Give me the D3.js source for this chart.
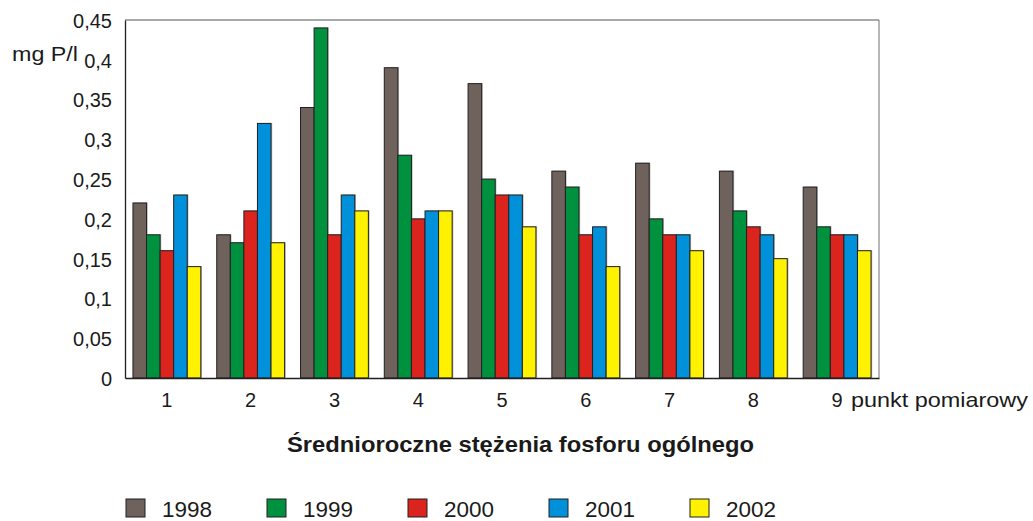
<!DOCTYPE html>
<html><head><meta charset="utf-8">
<script src="https://cdn.jsdelivr.net/npm/d3@7"></script>
<style>body{margin:0;background:#fff;} text{font-family:"Liberation Sans",Arial,sans-serif;fill:#1a1a1a;}</style>
</head><body>
<svg id="c" width="1033" height="521"></svg>
<script>
const categories = ["1","2","3","4","5","6","7","8","9"];
const years = ["1998","1999","2000","2001","2002"];
const v1998 = [0.22,0.18,0.34,0.39,0.37,0.26,0.27,0.26,0.24];
const v1999 = [0.18,0.17,0.44,0.28,0.25,0.24,0.20,0.21,0.19];
const v2000 = [0.16,0.21,0.18,0.20,0.23,0.18,0.18,0.19,0.18];
const v2001 = [0.23,0.32,0.23,0.21,0.23,0.19,0.18,0.18,0.18];
const v2002 = [0.14,0.17,0.21,0.21,0.19,0.14,0.16,0.15,0.16];
const yTicks = [0,0.05,0.1,0.15,0.2,0.25,0.3,0.35,0.4,0.45];
const colors = ["#6f625d","#00913f","#dc241f","#0091da","#fff200"];
const seriesValues = [v1998,v1999,v2000,v2001,v2002];

const svg = d3.select("#c");
const L=125, R=879, T=20, B=378;
const x = d3.scaleBand().domain(categories).range([L,R]).paddingInner(0.19).paddingOuter(0.095);
const xs = d3.scaleBand().domain(years).range([0,x.bandwidth()]);
const y = d3.scaleLinear().domain([0,0.45]).range([B,T]);
const fmt = d => String(d).replace(".",",");

// frame
svg.append("line").attr("x1",L).attr("x2",R).attr("y1",T).attr("y2",T).attr("stroke","#555").attr("stroke-width",1.2);
svg.append("line").attr("x1",R).attr("x2",R).attr("y1",T).attr("y2",B).attr("stroke","#888").attr("stroke-width",1.2);

// bars
const g = svg.append("g");
categories.forEach((c,i)=>{
  years.forEach((yr,j)=>{
    const val = seriesValues[j][i];
    const bx = x(c)+xs(yr), bw = xs.bandwidth();
    g.append("rect").attr("x",bx+1.2).attr("y",y(val)-0.5).attr("width",bw).attr("height",B-y(val)).attr("fill","#b8b8b8");
    g.append("rect").attr("x",bx).attr("y",y(val)).attr("width",bw).attr("height",B-y(val))
      .attr("fill",colors[j]).attr("stroke","#231f20").attr("stroke-width",1);
  });
});

// axes
const yAxis = svg.append("g").attr("transform",`translate(${L},0)`)
  .call(d3.axisLeft(y).tickValues(yTicks).tickFormat(fmt).tickSize(0).tickPadding(13));
yAxis.select(".domain").attr("stroke","#231f20").attr("stroke-width",1.3);
yAxis.selectAll("text").style("font-size","20px").attr("dy","0.37em");

const xAxis = svg.append("g").attr("transform",`translate(0,${B})`)
  .call(d3.axisBottom(x).tickSize(0).tickPadding(0));
xAxis.select(".domain").attr("stroke","#231f20").attr("stroke-width",1.3);
xAxis.selectAll("text").style("font-size","20px").attr("dy",null).attr("y",28.5);

svg.append("text").attr("x",851).attr("y",406.5).style("font-size","21px")
  .attr("textLength",177).attr("lengthAdjust","spacingAndGlyphs").text("punkt pomiarowy");
svg.append("text").attr("x",12).attr("y",61).style("font-size","21px")
  .attr("textLength",66).attr("lengthAdjust","spacingAndGlyphs").text("mg P/l");
svg.append("text").attr("x",287).attr("y",451.5).style("font-size","22px").style("font-weight","bold")
  .attr("textLength",467).attr("lengthAdjust","spacingAndGlyphs").text("Średnioroczne stężenia fosforu ogólnego");

// legend
const lg = svg.append("g");
years.forEach((yr,j)=>{
  const lx = 126 + j*141;
  lg.append("rect").attr("x",lx).attr("y",499).attr("width",19).attr("height",18).attr("fill",colors[j]).attr("stroke","#231f20").attr("stroke-width",1);
  lg.append("text").attr("x",lx+36).attr("y",516.5).style("font-size","22px")
    .attr("textLength",50).attr("lengthAdjust","spacingAndGlyphs").text(yr);
});
</script>
</body></html>
